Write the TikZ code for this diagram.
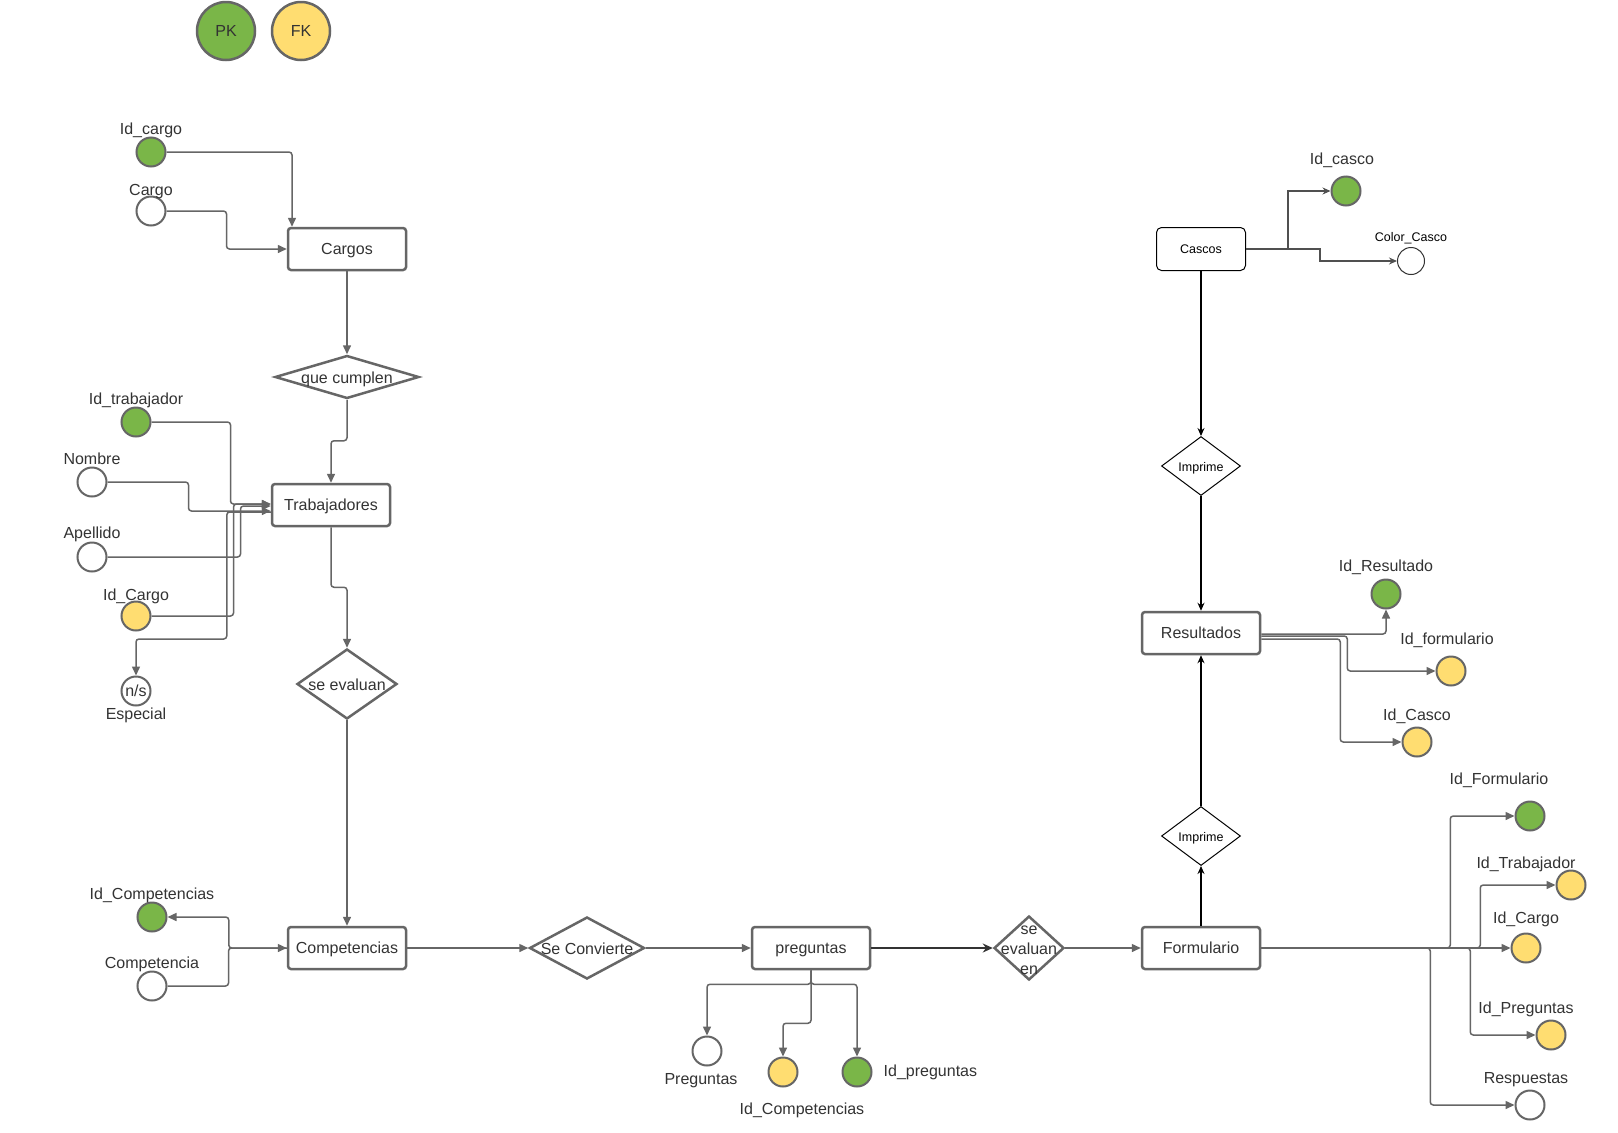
\documentclass[tikz,border=0pt]{standalone}
\usepackage{fontspec}
\setmainfont{Liberation Sans}
\usepackage{tikz}
\usetikzlibrary{positioning,arrows.meta,shapes.geometric}
\definecolor{linegray}{RGB}{102,102,102}
\definecolor{textgray}{RGB}{51,51,51}
\definecolor{darkline}{RGB}{80,80,80}
\definecolor{pkgreen}{RGB}{122,182,72}
\definecolor{fkyellow}{RGB}{255,221,113}
\newcommand{\mainsize}{\fontsize{16}{20}\selectfont}
\newcommand{\smallsize}{\fontsize{12.5}{15}\selectfont}
\newcommand{\flattext}[1]{\makebox[0pt]{\smash{\raisebox{-.42em}{\begin{tabular}{@{}c@{}}#1\end{tabular}}}}}

\begin{document}
\begin{tikzpicture}[x=1pt, y=-1pt,
  entity/.style={draw=linegray, line width=2.5pt, rounded corners=3pt, fill=white, text=textgray,
                 font=\mainsize, minimum width=118pt, minimum height=42pt, inner sep=0pt,
                 text height=11.7pt, text depth=0pt},
  thinbox/.style={draw=black, line width=1pt, rounded corners=5pt, fill=white, font=\smallsize,
                  minimum width=89pt, minimum height=43pt, inner sep=0pt},
  rel/.style={diamond, draw=linegray, line width=2.5pt, fill=white, text=textgray, font=\mainsize,
              inner sep=0pt},
  thinrel/.style={diamond, draw=black, line width=1pt, fill=white, font=\smallsize, inner sep=0pt,
                  minimum width=79pt, minimum height=59pt},
  attr/.style={circle, draw=linegray, line width=2pt, fill=white, minimum size=29pt, inner sep=0pt,
               text=textgray, font=\mainsize},
  pkey/.style={attr, fill=pkgreen},
  fkey/.style={attr, fill=fkyellow},
  lbl/.style={text=textgray, font=\mainsize, inner sep=0pt, text height=11.5pt, text depth=3.5pt},
  smalllbl/.style={text=black, font=\smallsize, inner sep=0pt, text height=9pt, text depth=2.7pt},
  arr/.style={draw=linegray, line width=1.5pt, rounded corners=3pt, -{Triangle[length=9pt, width=8pt]}},
  blk/.style={draw=black, line width=1.2pt, -{Stealth[length=8pt, width=7pt]}},
  dk/.style={draw=darkline, line width=1.5pt, -{Stealth[length=8pt, width=7pt]}},
  heavy/.style={draw=textgray, line width=2.5pt, -{Stealth[length=10pt, width=9pt]}}]

\path[use as bounding box, fill=white] (0,0) rectangle (1618,1133);

% legend
\node[pkey, minimum size=58pt, line width=2.5pt] (pk) at (226,31) {PK};
\node[fkey, minimum size=58pt, line width=2.5pt] (fk) at (301,31) {FK};

% Cargos
\node[entity] (cargos) at (347,249) {Cargos};
\node[pkey] (idcargo) at (151,152) {};
\node[lbl, above=-2pt of idcargo] (idcargo-l) {Id\_cargo};
\node[attr] (cargo) at (151,211) {};
\node[lbl, above=-4pt of cargo] (cargo-l) {Cargo};
\node[rel, minimum width=144pt, minimum height=43pt] (cumplen) at (347,377) {\flattext{que cumplen}};

% Trabajadores
\node[entity] (trabajadores) at (331,505) {Trabajadores};
\node[pkey] (idtrab) at (136,422) {};
\node[lbl, above=-2pt of idtrab] (idtrab-l) {Id\_trabajador};
\node[attr] (nombre) at (92,482) {};
\node[lbl, above=-2pt of nombre] (nombre-l) {Nombre};
\node[attr] (apellido) at (92,557) {};
\node[lbl, above=-1pt of apellido] (apellido-l) {Apellido};
\node[fkey] (idcargot) at (136,616) {};
\node[lbl, above=-4pt of idcargot] (idcargot-l) {Id\_Cargo};
\node[attr] (especial) at (136,691) {n/s};
\node[lbl, below=1pt of especial] (especial-l) {Especial};
\node[rel, minimum width=100pt, minimum height=70pt] (evaluan) at (347,684) {\flattext{se evaluan}};

% Competencias
\node[entity] (competencias) at (347,948) {Competencias};
\node[pkey] (idcomp) at (152,917) {};
\node[lbl, above=-2pt of idcomp] (idcomp-l) {Id\_Competencias};
\node[attr] (competencia) at (152,986) {};
\node[lbl, above=-2pt of competencia] (competencia-l) {Competencia};
\node[rel, minimum width=115pt, minimum height=62pt] (convierte) at (587,948) {\flattext{Se Convierte}};

% preguntas
\node[entity] (preguntas) at (811,948) {preguntas};
\node[rel, minimum width=70pt, minimum height=64pt] (evaluanen) at (1029,948) {\flattext{se\\evaluan\\en}};
\node[attr] (pregs) at (707,1051) {};
\node[lbl, below=6pt of pregs, xshift=-6pt] (pregs-l) {Preguntas};
\node[fkey] (idcompp) at (783,1072) {};
\node[lbl, below=15pt of idcompp, xshift=19pt] (idcompp-l) {Id\_Competencias};
\node[pkey] (idpreg) at (857,1072) {};
\node[lbl, right=11pt of idpreg] (idpreg-l) {Id\_preguntas};

% Cascos, Resultados, Formulario
\node[thinbox] (cascos) at (1201,249) {Cascos};
\node[thinrel] (imprimea) at (1201,466) {\flattext{Imprime}};
\node[entity] (resultados) at (1201,633) {Resultados};
\node[thinrel] (imprimeb) at (1201,836) {\flattext{Imprime}};
\node[entity] (formulario) at (1201,948) {Formulario};

\node[pkey] (idcasco) at (1346,191) {};
\node[lbl, above=7pt of idcasco, xshift=-4pt] (idcasco-l) {Id\_casco};
\node[attr, draw=textgray, line width=1pt, minimum size=27pt] (colorcasco) at (1411,261) {};
\node[smalllbl, above=3pt of colorcasco] (colorcasco-l) {Color\_Casco};

\node[pkey] (idres) at (1386,594) {};
\node[lbl, above=3pt of idres] (idres-l) {Id\_Resultado};
\node[fkey] (idformr) at (1451,671) {};
\node[lbl, above=7pt of idformr, xshift=-4pt] (idformr-l) {Id\_formulario};
\node[fkey] (idcascor) at (1417,742) {};
\node[lbl, above=2pt of idcascor] (idcascor-l) {Id\_Casco};

\node[pkey] (idform) at (1530,816) {};
\node[lbl, above=12pt of idform, xshift=-31pt] (idform-l) {Id\_Formulario};
\node[fkey] (idtrabf) at (1571,885) {};
\node[lbl, above=-3pt of idtrabf, xshift=-45pt] (idtrabf-l) {Id\_Trabajador};
\node[fkey] (idcargof) at (1526,948) {};
\node[lbl, above=5pt of idcargof] (idcargof-l) {Id\_Cargo};
\node[fkey] (idpregf) at (1551,1035) {};
\node[lbl, above=2pt of idpregf, xshift=-25pt] (idpregf-l) {Id\_Preguntas};
\node[attr] (respuestas) at (1530,1105) {};
\node[lbl, above=2pt of respuestas, xshift=-4pt] (respuestas-l) {Respuestas};

% connectors, left part
\draw[arr] (idcargo) -| ([xshift=-55pt]cargos.north);
\draw[arr] (cargo.east) -- ++(60,0) |- (cargos.west);
\draw[arr] (cargos) -- (cumplen);
\draw[arr] (cumplen.south) -- ++(0,41) -| (trabajadores.north);
\draw[arr] (idtrab.east) -- ++(79,0) |- ([yshift=1pt]trabajadores.west);
\draw[arr] (nombre.east) -- ++(81,0) |- ([yshift=-6pt]trabajadores.west);
\draw[arr] (apellido.east) -- ++(133,0) |- ([yshift=-1pt]trabajadores.west);
\draw[arr] (idcargot.east) -- ++(82,0) |- ([yshift=1pt]trabajadores.west);
\draw[arr] ([yshift=-7pt]trabajadores.west) -- ++(-44,0) -- ++(0,127) -| (especial.north);
\draw[arr] (trabajadores.south) -- ++(0,60) -| (evaluan.north);
\draw[arr] (evaluan) -- (competencias);
\draw[arr] (competencias.west) -- ++(-58,0) |- (idcomp.east);
\draw[arr] (competencia.east) -- ++(61,0) |- (competencias.west);
\draw[arr] (competencias) -- (convierte);
\draw[arr] (convierte) -- (preguntas);
\draw[heavy] (preguntas) -- (evaluanen);
\draw[arr] (evaluanen) -- (formulario);
\draw[arr] (preguntas.south) -- ++(0,14) -| (pregs.north);
\draw[arr] (preguntas.south) -- ++(0,53) -| (idcompp.north);
\draw[arr] (preguntas.south) -- ++(0,14) -| (idpreg.north);

% connectors, right part
\draw[blk] (cascos) -- (imprimea);
\draw[blk] (imprimea) -- (resultados);
\draw[blk] (formulario) -- (imprimeb);
\draw[blk] (imprimeb) -- (resultados);
\draw[dk] (cascos.east) -- ++(42,0) |- (idcasco.west);
\draw[dk] (cascos.east) -- ++(74,0) |- (colorcasco.west);
\draw[arr] ([yshift=-1pt]resultados.east) -| (idres.south);
\draw[arr] ([yshift=-3pt]resultados.east) -- ++(86,0) |- (idformr.west);
\draw[arr] ([yshift=-6pt]resultados.east) -- ++(79,0) |- (idcascor.west);
\draw[arr] (formulario.east) -- ++(189,0) |- (idform.west);
\draw[arr] (formulario.east) -- ++(219,0) |- (idtrabf.west);
\draw[arr] (formulario) -- (idcargof);
\draw[arr] (formulario.east) -- ++(209,0) |- (idpregf.west);
\draw[arr] (formulario.east) -- ++(169,0) |- (respuestas.west);
\end{tikzpicture}
\end{document}
